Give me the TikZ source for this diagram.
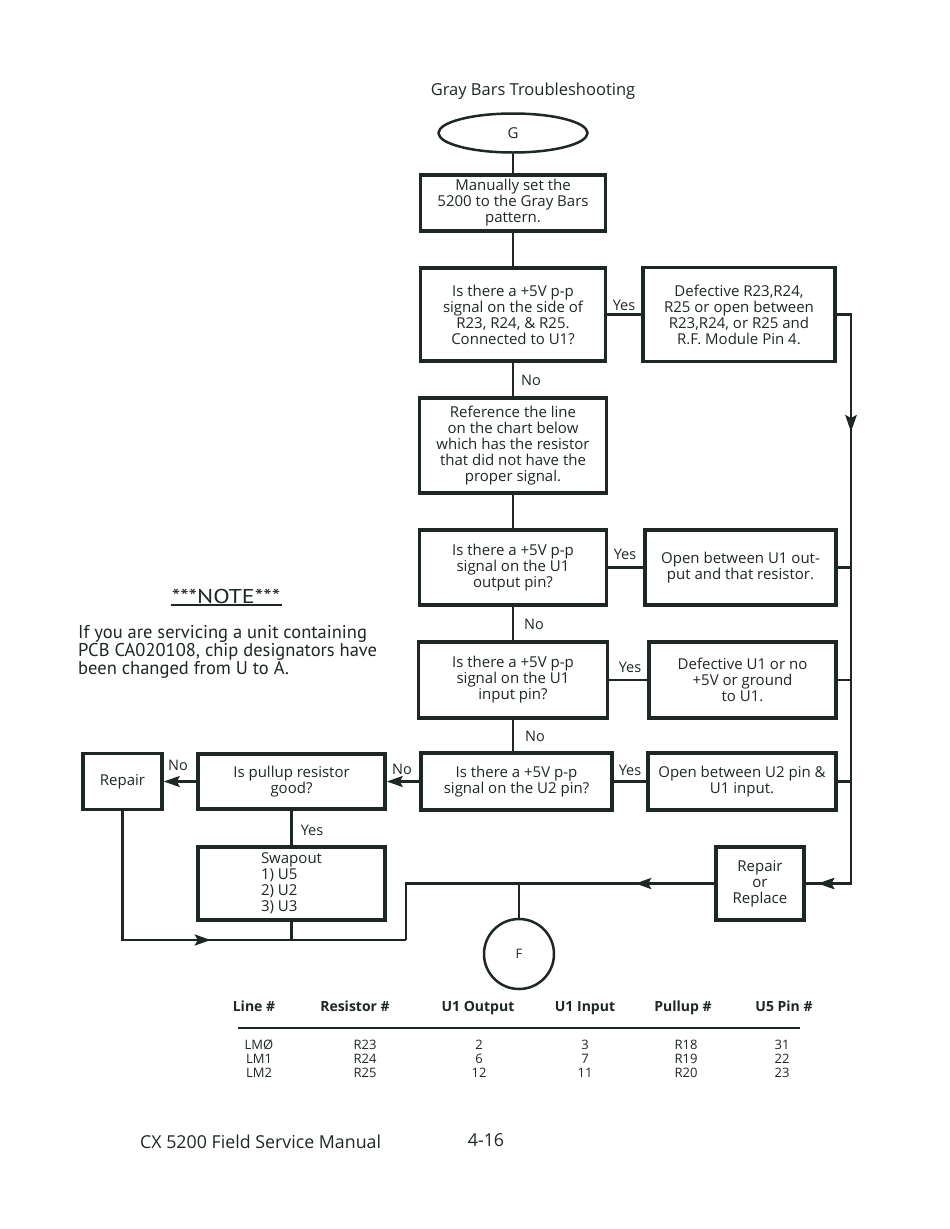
\documentclass[tikz,border=0pt]{standalone}
\usepackage{fontspec}
\setmainfont{Open Sans}
\newfontfamily\notefont{PT Sans}
\usetikzlibrary{shapes.geometric,arrows.meta,decorations.markings}
\definecolor{ink}{RGB}{30,40,35}
\begin{document}
\begin{tikzpicture}[x=1pt,y=-1pt,
  box/.style={draw=ink, line width=3.5pt, rectangle, inner sep=2pt, align=center,
    font=\fontsize{15}{16}\selectfont, text=ink},
  conn/.style={draw=ink, line width=2.4pt},
  lab/.style={font=\fontsize{14.5}{16}\selectfont, text=ink, inner sep=0pt},
  tbl/.style={font=\fontsize{13}{14}\selectfont, text=ink, inner sep=0pt, anchor=base},
  tblh/.style={font=\fontsize{14}{14}\selectfont\bfseries, text=ink, inner sep=0pt, anchor=base},
  endarrow/.style={-{Stealth[length=16pt,width=11pt,inset=3pt]}},
  midarrow/.style={postaction={decorate}, decoration={markings,
    mark=at position #1 with {\arrow{Stealth[length=16pt,width=11pt,inset=3pt]}}}}]
\useasboundingbox (0,0) rectangle (950,1229);
\fill[white] (0,0) rectangle (950,1229);

% title
\node[text=ink, font=\fontsize{16.5}{18}\selectfont] (title) at (533,91) {Gray Bars Troubleshooting};

% start
\node[draw=ink, line width=2.5pt, ellipse, minimum width=149pt, minimum height=39pt,
  text=ink, font=\fontsize{15}{16}\selectfont] (G) at (513,133) {G};

\node[box, minimum width=185pt, minimum height=56pt] (B1) at (513,203)
  {Manually set the\\5200 to the Gray Bars\\pattern.};
\node[box, minimum width=185pt, minimum height=93pt] (Q1) at (513,314.5)
  {Is there a +5V p-p\\signal on the side of\\R23, R24, \& R25.\\Connected to U1?};
\node[box, minimum width=192pt, minimum height=94pt] (D1) at (739,314.5)
  {Defective R23,R24,\\R25 or open between\\R23,R24, or R25 and\\R.F. Module Pin 4.};
\node[box, minimum width=187pt, minimum height=95pt] (B3) at (513,445.5)
  {Reference the line\\on the chart below\\which has the resistor\\that did not have the\\proper signal.};
\node[box, minimum width=187pt, minimum height=75pt] (Q2) at (513,567.5)
  {Is there a +5V p-p\\signal on the U1\\output pin?};
\node[box, minimum width=191pt, minimum height=75pt] (O1) at (740.5,567.5)
  {Open between U1 out-\\put and that resistor.};
\node[box, minimum width=189pt, minimum height=76pt] (Q3) at (513,680)
  {Is there a +5V p-p\\signal on the U1\\input pin?};
\node[box, minimum width=187pt, minimum height=76pt] (D2) at (742.5,680)
  {Defective U1 or no\\+5V or ground\\to U1.};
\node[box, minimum width=191pt, minimum height=57pt] (Q4) at (516.5,781.5)
  {Is there a +5V p-p\\signal on the U2 pin?};
\node[box, minimum width=188pt, minimum height=57pt] (O2) at (742,781.5)
  {Open between U2 pin \&\\U1 input.};
\node[box, minimum width=187pt, minimum height=55pt] (P) at (291.5,781.5)
  {Is pullup resistor\\good?};
\node[box, minimum width=79pt, minimum height=56pt] (R) at (122.5,781.5) {Repair};
\node[box, minimum width=187pt, minimum height=73pt, align=left] (S) at (291.5,883.5)
  {Swapout\\1) U5\\2) U2\\3) U3};
\node[box, minimum width=88pt, minimum height=73pt] (RR) at (760,883.5)
  {Repair\\or\\Replace};
\node[draw=ink, line width=2.5pt, circle, minimum size=70pt, text=ink,
  font=\fontsize{13}{16}\selectfont] (F) at (519,954) {F};

% labels
\node[lab] (y1) at (624,305) {Yes};
\node[lab] (y2) at (625,554) {Yes};
\node[lab] (y3) at (630,667) {Yes};
\node[lab] (y4) at (630,770) {Yes};
\node[lab] (n1) at (531,380) {No};
\node[lab] (n2) at (534,624) {No};
\node[lab] (n3) at (535,736) {No};
\node[lab] (n4) at (402,769) {No};
\node[lab] (n5) at (178,765) {No};
\node[lab] (y5) at (312,830) {Yes};

% coordinates
\coordinate (t1) at (851,314.5);
\coordinate (t2) at (851,883.5);
\coordinate (t3) at (851,567.5);
\coordinate (t4) at (851,680);
\coordinate (t5) at (851,781.5);
\coordinate (j1) at (406,883.5);
\coordinate (j2) at (406,940);
\coordinate (j3) at (122.5,940);
\coordinate (j4) at (291.5,940);
\coordinate (j5) at (519,883.5);

% main column
\draw[conn] (G) -- (B1);
\draw[conn] (B1) -- (Q1);
\draw[conn] (Q1) -- (B3);
\draw[conn] (B3) -- (Q2);
\draw[conn] (Q2) -- (Q3);
\draw[conn] (Q3.south -| Q2.south) -- (Q4.north -| Q2.south);
% yes branches
\draw[conn] (Q1) -- (D1);
\draw[conn] (Q2) -- (O1);
\draw[conn] (Q3) -- (D2);
\draw[conn] (Q4) -- (O2);
% right trunk
\draw[conn, midarrow=131pt, midarrow=616pt] (D1.east) -- (t1) -- (t2) -- (RR.east);
\draw[conn] (O1) -- (t3);
\draw[conn] (D2) -- (t4);
\draw[conn] (O2) -- (t5);
% left branch
\draw[conn, endarrow] (Q4) -- (P);
\draw[conn, endarrow] (P) -- (R);
\draw[conn] (P) -- (S);
% bottom loop
\draw[conn, midarrow=79pt] (RR.west) -- (j1) -- (j2);
\draw[conn, midarrow=217pt] (R.south) -- (j3) -- (j2);
\draw[conn] (S) -- (j4);
\draw[conn] (j5) -- (F);

% note
\node[text=ink, font=\notefont\fontsize{18.5}{18}\selectfont, inner sep=0pt] (note) at (226,596) {\scalebox{1.3}[1.08]{***NOTE***}};
\draw[ink, line width=1.4pt] (171,605) -- (282,605);
\node[text=ink, font=\notefont\fontsize{18.5}{18}\selectfont, align=left, anchor=north west, inner sep=0pt] (para) at (78,625)
  {If you are servicing a unit containing\\PCB CA020108, chip designators have\\been changed from U to A.};

% table
\node[tblh] (h1) at (254,1011) {Line \#};
\node[tblh] (h2) at (355,1011) {Resistor \#};
\node[tblh] (h3) at (478,1011) {U1 Output};
\node[tblh] (h4) at (585,1011) {U1 Input};
\node[tblh] (h5) at (683,1011) {Pullup \#};
\node[tblh] (h6) at (784,1011) {U5 Pin \#};
\draw[ink, line width=2pt] (238,1028) -- (800,1028);
\node[tbl] (a1) at (259,1049) {LMØ};
\node[tbl] (a2) at (365,1049) {R23};
\node[tbl] (a3) at (479,1049) {2};
\node[tbl] (a4) at (585,1049) {3};
\node[tbl] (a5) at (686,1049) {R18};
\node[tbl] (a6) at (782,1049) {31};
\node[tbl] (b1) at (259,1063) {LM1};
\node[tbl] (b2) at (365,1063) {R24};
\node[tbl] (b3) at (479,1063) {6};
\node[tbl] (b4) at (585,1063) {7};
\node[tbl] (b5) at (686,1063) {R19};
\node[tbl] (b6) at (782,1063) {22};
\node[tbl] (c1) at (259,1077) {LM2};
\node[tbl] (c2) at (365,1077) {R25};
\node[tbl] (c3) at (479,1077) {12};
\node[tbl] (c4) at (585,1077) {11};
\node[tbl] (c5) at (686,1077) {R20};
\node[tbl] (c6) at (782,1077) {23};

% footer
\node[text=ink, font=\fontsize{17.8}{18}\selectfont, anchor=west, inner sep=0pt] (foot) at (140,1142) {CX 5200 Field Service Manual};
\node[text=ink, font=\fontsize{17.8}{18}\selectfont, inner sep=0pt] (page) at (486,1140) {4-16};
\end{tikzpicture}
\end{document}
